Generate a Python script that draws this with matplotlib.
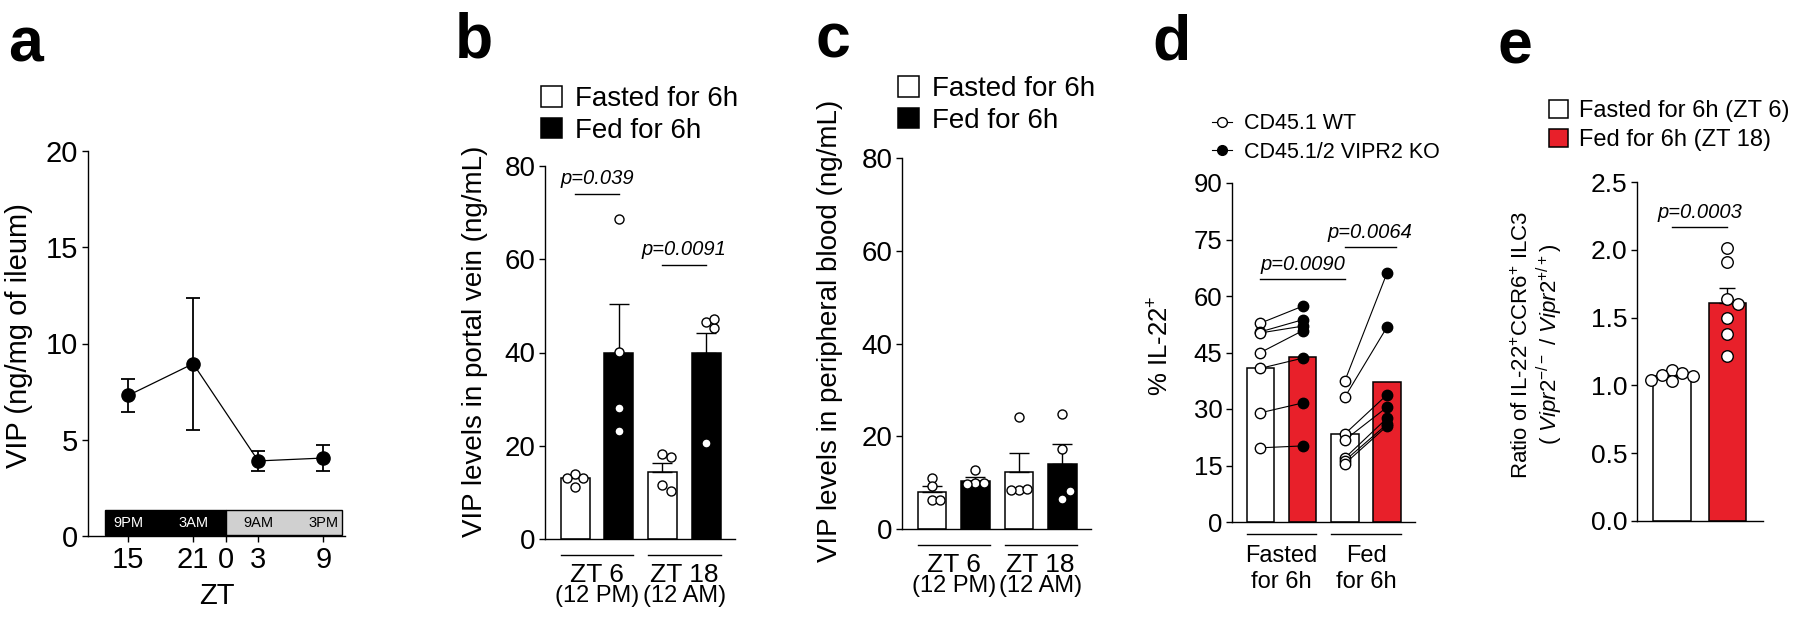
import numpy as np
import matplotlib
matplotlib.use('Agg')
import matplotlib.pyplot as plt
from matplotlib.patches import Patch, Rectangle
from matplotlib.lines import Line2D
import matplotlib.transforms as mtrans

plt.rcParams['font.family'] = ['Liberation Sans', 'DejaVu Sans']
plt.rcParams['mathtext.fontset'] = 'custom'
plt.rcParams['mathtext.rm'] = 'Liberation Sans'
plt.rcParams['mathtext.it'] = 'Liberation Sans:italic'
plt.rcParams['mathtext.bf'] = 'Liberation Sans:bold'
plt.rcParams['axes.linewidth'] = 1.0

# ---------------- data ----------------
# panel a
a_zt = [15, 21, 3, 9]
a_mean = [7.3, 8.95, 3.9, 4.05]
a_err_hi = [8.15, 12.37, 4.43, 4.74]
a_err_lo = [6.44, 5.5, 3.37, 3.37]
a_xtick_zt = [15, 21, 0, 3, 9]
a_clock = ['9PM', '3AM', '9AM', '3PM']

# panel b
b_groups = [('ZT 6', '(12 PM)'), ('ZT 18', '(12 AM)')]
b_fasted_mean = [13.1, 14.4]
b_fasted_sem = [0.6, 2.0]
b_fed_mean = [40.0, 39.9]
b_fed_sem = [10.3, 4.3]
b_fasted_pts = [[13.9, 13.1, 13.1, 11.1], [18.2, 17.5, 11.6, 10.3]]
b_fed_pts = [[68.7, 40.2, 28.0, 23.1], [46.5, 45.2, 47.1, 20.5]]
b_pvals = ['p=0.039', 'p=0.0091']
b_p_y = [74.0, 58.8]

# panel c
c_groups = [('ZT 6', '(12 PM)'), ('ZT 18', '(12 AM)')]
c_fasted_mean = [8.0, 12.2]
c_fasted_sem = [1.2, 4.1]
c_fed_mean = [10.4, 14.1]
c_fed_sem = [0.8, 4.3]
c_fasted_pts = [[11.1, 9.3, 6.2, 6.2], [24.1, 8.5, 8.7, 8.5]]
c_fed_pts = [[12.7, 9.9, 10.0, 9.6], [24.9, 17.3, 6.5, 8.2]]

# panel d
d_groups = [('Fasted', 'for 6h'), ('Fed', 'for 6h')]
d_bar_means = [41.0, 43.8, 23.4, 37.2]
d_wt_fasted = [52.8, 50.5, 50.2, 45.0, 40.8, 29.0, 19.7]
d_ko_fasted = [57.3, 53.7, 52.0, 50.8, 43.5, 31.6, 20.2]
d_wt_fed = [37.5, 33.2, 23.4, 21.8, 17.0, 16.3, 15.5]
d_ko_fed = [66.2, 51.8, 33.8, 30.5, 27.6, 26.0, 25.5]
d_pvals = ['p=0.0090', 'p=0.0064']
d_p_y = [64.6, 73.1]

# panel e
e_means = [1.07, 1.61]
e_sem = [0.013, 0.11]
e_fasted_pts = [1.11, 1.09, 1.08, 1.07, 1.04, 1.03]
e_fed_pts = [2.01, 1.91, 1.64, 1.60, 1.50, 1.38, 1.22]
e_pval = 'p=0.0003'
e_p_y = 2.167

RED = '#e8202a'
W, H = 1800, 630
fig = plt.figure(figsize=(18, 6.3), dpi=100)


def add_axes_px(l, r, t, b):
    return fig.add_axes([l / W, 1 - b / H, (r - l) / W, (b - t) / H])


def style(ax, fs):
    for s in ['top', 'right']:
        ax.spines[s].set_visible(False)
    ax.tick_params(direction='out', length=4, width=1, labelsize=fs, pad=3)


def swarm(ax, xc, vals, dia_px):
    bb = ax.get_position()
    xr = ax.get_xlim(); yr = ax.get_ylim()
    sx = bb.width * W / (xr[1] - xr[0])
    sy = bb.height * H / (yr[1] - yr[0])
    placed, xs = [], []
    for v in vals:
        py = v * sy
        px = 0
        for k in [0, 1, -1, 2, -2, 3, -3]:
            px = k * dia_px * 0.9
            if all((px - qx) ** 2 + (py - qy) ** 2 >= (0.9 * dia_px) ** 2 for qx, qy in placed):
                break
        placed.append((px, py))
        xs.append(xc + px / sx)
    return xs


def group_labels(ax, centers, labels, width, line_dy, t1_dy, t2_dy, fs1, fs2):
    tr = mtrans.blended_transform_factory(ax.transData, ax.transAxes)
    hpx = ax.get_position().height * H
    for (c0, c1), (l1, l2) in zip(centers, labels):
        ax.plot([c0 - width / 2, c1 + width / 2], [-line_dy / hpx] * 2, color='black',
                lw=1.0, transform=tr, clip_on=False)
        ax.text((c0 + c1) / 2, -t1_dy / hpx, l1, transform=tr, ha='center', va='center', fontsize=fs1)
        ax.text((c0 + c1) / 2, -t2_dy / hpx, l2, transform=tr, ha='center', va='center', fontsize=fs2)


def pbracket(ax, x0, x1, y, text, fs, gap):
    ax.plot([x0, x1], [y, y], color='black', lw=1.0, clip_on=False)
    ax.text((x0 + x1) / 2, y + gap, text, ha='center', va='bottom', fontsize=fs,
            fontstyle='italic')


# ---------------- panel a ----------------
axa = add_axes_px(88, 345, 151, 536)
style(axa, 21)
axa.set_xlim(11.3, 35.0)
axa.set_ylim(0, 20)
ax_x = [z + 24 if z < 12 else z for z in a_zt]
axa.errorbar(ax_x, a_mean,
             yerr=[np.array(a_mean) - np.array(a_err_lo), np.array(a_err_hi) - np.array(a_mean)],
             fmt='o', color='black', ms=9.5, lw=0.9, elinewidth=1.3, capsize=4.7, capthick=1.3,
             zorder=3)
axa.plot(ax_x, a_mean, color='black', lw=0.9, zorder=2)
tick_x = [z + 24 if z < 12 else z for z in a_xtick_zt]
tick_x[2] = 24
axa.set_xticks(tick_x)
axa.set_xticklabels([str(z) for z in a_xtick_zt])
axa.set_yticks([0, 5, 10, 15, 20])
axa.add_patch(Rectangle((12.9, 0.05), 24 - 12.9, 1.3, facecolor='black', edgecolor='black', lw=1,
                        zorder=4))
axa.add_patch(Rectangle((24, 0.05), 34.7 - 24, 1.3, facecolor='#d0d0d0', edgecolor='black', lw=1,
                        zorder=4))
for z, lab in zip(ax_x, a_clock):
    axa.text(z, 0.7, lab, ha='center', va='center', fontsize=10.5,
             color='white' if z < 24 else 'black', zorder=5)
axa.set_ylabel('VIP (ng/mg of ileum)', fontsize=21)
axa.yaxis.set_label_coords(-0.214, 0.52)
axa.set_xlabel('ZT', fontsize=21, labelpad=6)
fig.text(8 / W, 1 - 62 / H, 'a', fontsize=45, fontweight='bold', va='baseline')


# ---------------- bar panels b, c ----------------
def bar_panel(box, fmean, fsem, dmean, dsem, fpts, dpts, groups, ylabel, lab_x, lab_y, letter,
              letter_pos, leg_y):
    ax = add_axes_px(*box)
    style(ax, 20)
    ax.set_xlim(-0.69, 3.66)
    ax.set_ylim(0, 80)
    ax.set_yticks([0, 20, 40, 60, 80])
    ax.set_xticks([])
    bw = 0.66
    xf = np.array([0, 2]); xd = np.array([1, 3])
    ax.bar(xf, fmean, width=bw, color='white', edgecolor='black', lw=1.1, zorder=1)
    ax.bar(xd, dmean, width=bw, color='black', edgecolor='black', lw=1.1, zorder=1)
    ax.errorbar(xf, fmean, yerr=[np.zeros(2), fsem], fmt='none', ecolor='black', elinewidth=1.0,
                capsize=7, capthick=1.0, zorder=2)
    ax.errorbar(xd, dmean, yerr=[np.zeros(2), dsem], fmt='none', ecolor='black', elinewidth=1.0,
                capsize=7, capthick=1.0, zorder=2)
    for i in range(2):
        for xc, pts in [(xf[i], fpts[i]), (xd[i], dpts[i])]:
            xs = swarm(ax, xc, pts, 9)
            ax.plot(xs, pts, 'o', ms=6.5, mfc='white', mec='black', mew=1.0, zorder=3,
                    clip_on=False)
    group_labels(ax, [(0, 1), (2, 3)], groups, bw, 16, 36, 57, 19, 17)
    ax.set_ylabel(ylabel, fontsize=20)
    ax.yaxis.set_label_coords(lab_x, lab_y)
    handles = [Patch(facecolor='white', edgecolor='black', lw=1.1),
               Patch(facecolor='black', edgecolor='black', lw=1.1)]
    ax.legend(handles, ['Fasted for 6h', 'Fed for 6h'], loc='lower left',
              bbox_to_anchor=(-0.02, leg_y), frameon=False, fontsize=20, handlelength=0.75,
              handleheight=0.75, handletextpad=0.45, labelspacing=0.2, borderpad=0,
              borderaxespad=0)
    fig.text(letter_pos[0] / W, 1 - letter_pos[1] / H, letter, fontsize=45, fontweight='bold',
             va='baseline')
    return ax


axb = bar_panel((545, 735, 166, 539), b_fasted_mean, b_fasted_sem, b_fed_mean, b_fed_sem,
                b_fasted_pts, b_fed_pts, b_groups, 'VIP levels in portal vein (ng/mL)',
                -0.30, 0.53, 'b', (455, 58), 1.06)
for (x0, x1), txt, y in zip([(0, 1), (2, 3)], b_pvals, b_p_y):
    pbracket(axb, x0, x1, y, txt, 14.5, 1.2)

axc = bar_panel((902, 1091, 158, 529), c_fasted_mean, c_fasted_sem, c_fed_mean, c_fed_sem,
                c_fasted_pts, c_fed_pts, c_groups, 'VIP levels in peripheral blood (ng/mL)',
                -0.312, 0.534, 'c', (815, 58), 1.065)

# ---------------- panel d ----------------
axd = add_axes_px(1232, 1415, 183, 522)
style(axd, 18.5)
axd.set_xlim(-0.675, 3.66)
axd.set_ylim(0, 90)
axd.set_yticks([0, 15, 30, 45, 60, 75, 90])
axd.set_xticks([])
bw = 0.65
xpos = np.arange(4)
axd.bar(xpos, d_bar_means, width=bw, color=['white', RED, 'white', RED], edgecolor='black',
        lw=1.1, zorder=1)
for x0, x1, wt, ko in [(0, 1, d_wt_fasted, d_ko_fasted), (2, 3, d_wt_fed, d_ko_fed)]:
    for a, b in zip(wt, ko):
        axd.plot([x0, x1], [a, b], color='black', lw=0.8, zorder=2)
    axd.plot([x0] * len(wt), wt, 'o', ms=7.5, mfc='white', mec='black', mew=1.0, zorder=3)
    axd.plot([x1] * len(ko), ko, 'o', ms=7.5, mfc='black', mec='black', mew=1.0, zorder=3)
group_labels(axd, [(0, 1), (2, 3)], d_groups, bw, 12, 34, 60, 17, 17)
pbracket(axd, 0, 2, d_p_y[0], d_pvals[0], 14.5, 1.2)
pbracket(axd, 2, 3.2, d_p_y[1], d_pvals[1], 14.5, 1.2)
axd.set_ylabel('% IL-22$^{+}$', fontsize=18.5)
axd.yaxis.set_label_coords(-0.322, 0.52)
dh = [Line2D([0], [0], color='black', lw=0.8, marker='o', ms=7, mfc='white', mec='black'),
      Line2D([0], [0], color='black', lw=0.8, marker='o', ms=7, mfc='black', mec='black')]
axd.legend(dh, ['CD45.1 WT', 'CD45.1/2 VIPR2 KO'], loc='lower left', bbox_to_anchor=(-0.11, 1.06),
           frameon=False, fontsize=15.5, handlelength=0.95, handletextpad=0.55, labelspacing=0.35,
           borderpad=0, borderaxespad=0)
fig.text(1152 / W, 1 - 60 / H, 'd', fontsize=45, fontweight='bold', va='baseline')

# ---------------- panel e ----------------
axe = add_axes_px(1637, 1763, 182, 521)
style(axe, 19)
axe.set_xlim(-0.63, 1.64)
axe.set_ylim(0, 2.5)
axe.set_yticks([0, 0.5, 1.0, 1.5, 2.0, 2.5])
axe.set_yticklabels(['0.0', '0.5', '1.0', '1.5', '2.0', '2.5'])
axe.set_xticks([])
axe.bar([0, 1], e_means, width=0.68, color=['white', RED], edgecolor='black', lw=1.1, zorder=1)
axe.errorbar([0, 1], e_means, yerr=[np.zeros(2), e_sem], fmt='none', ecolor='black',
             elinewidth=1.0, capsize=6, capthick=1.0, zorder=2)
for xc, pts in [(0, e_fasted_pts), (1, e_fed_pts)]:
    xs = swarm(axe, xc, pts, 11.5)
    axe.plot(xs, pts, 'o', ms=8.3, mfc='white', mec='black', mew=1.0, zorder=3, clip_on=False)
pbracket(axe, 0, 1, e_p_y, e_pval, 14.5, 0.04)
axe.set_ylabel('Ratio of IL-22$^{+}$CCR6$^{+}$ ILC3\n( $\\mathit{Vipr2}^{-/-}$ / $\\mathit{Vipr2}^{+/+}$)',
               fontsize=16, linespacing=1.1)
axe.yaxis.set_label_coords(-0.571, 0.52)
eh = [Patch(facecolor='white', edgecolor='black', lw=1.1),
      Patch(facecolor=RED, edgecolor='black', lw=1.1)]
axe.legend(eh, ['Fasted for 6h (ZT 6)', 'Fed for 6h (ZT 18)'], loc='lower left',
           bbox_to_anchor=(-0.70, 1.09), frameon=False, fontsize=17, handlelength=0.8,
           handleheight=0.8, handletextpad=0.5, labelspacing=0.3, borderpad=0, borderaxespad=0)
fig.text(1498 / W, 1 - 64 / H, 'e', fontsize=45, fontweight='bold', va='baseline')

fig.savefig('out.png', dpi=100)
